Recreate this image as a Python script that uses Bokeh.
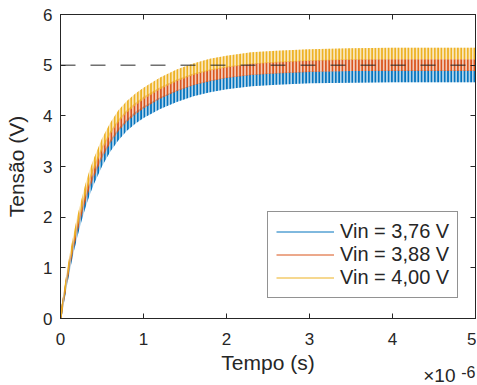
from bokeh.plotting import figure
from bokeh.models import (Range1d, FixedTicker, LinearAxis, CustomJSTickFormatter, Legend,
                          LegendItem, Span, Title, ColumnDataSource)
from bokeh.embed import file_html
from bokeh.resources import INLINE

# time samples (microseconds) and band centre values
T_US = [0, 0.04, 0.08, 0.12, 0.16, 0.2, 0.25, 0.3, 0.35, 0.4, 0.5, 0.6, 0.7, 0.8, 0.9, 1.0,
        1.2, 1.4, 1.6, 1.8, 2.0, 2.3, 2.6, 3.0, 3.5, 4.0, 4.5, 5.0]
V_376 = [0, 0.40, 0.78, 1.12, 1.43, 1.71, 2.02, 2.30, 2.55, 2.76, 3.12, 3.41, 3.64, 3.82, 3.96, 4.07,
         4.25, 4.39, 4.50, 4.58, 4.64, 4.70, 4.73, 4.76, 4.77, 4.78, 4.78, 4.78]
V_388 = [0, 0.42, 0.82, 1.18, 1.50, 1.80, 2.12, 2.42, 2.68, 2.90, 3.28, 3.58, 3.82, 4.00, 4.14, 4.26,
         4.45, 4.60, 4.72, 4.80, 4.86, 4.92, 4.95, 4.98, 5.00, 5.00, 5.00, 5.00]
V_400 = [0, 0.44, 0.86, 1.24, 1.57, 1.89, 2.22, 2.54, 2.81, 3.04, 3.44, 3.75, 4.00, 4.18, 4.32, 4.44,
         4.64, 4.80, 4.92, 5.01, 5.07, 5.14, 5.17, 5.20, 5.22, 5.23, 5.23, 5.23]
RIPPLE = [0.23, 0.23, 0.23]          # peak-to-peak ripple (V)
LABELS = ["Vin = 3,76 V", "Vin = 3,88 V", "Vin = 4,00 V"]
REF_V = 5.0
X_TICKS_US = [0, 1, 2, 3, 4, 5]
Y_TICKS = [0, 1, 2, 3, 4, 5, 6]
X_MULT_BASE = "×10"
X_MULT_EXP = "-6"

COLORS = ["#0072BD", "#D95319", "#EDB120"]
INK = "#262626"
FONT = "Liberation Sans"

t = [v * 1e-6 for v in T_US]

p = figure(width=476, height=384, output_backend="svg", toolbar_location=None,
           x_range=Range1d(0, 5e-6), y_range=Range1d(0, 6),
           min_border_left=60, min_border_right=1, min_border_top=14, min_border_bottom=66)
p.background_fill_color = "white"
p.border_fill_color = "white"
p.outline_line_color = INK
p.outline_line_width = 1
p.xgrid.visible = False
p.ygrid.visible = False

fmt_x = CustomJSTickFormatter(code="return (tick*1e6).toFixed(0);")
blank = CustomJSTickFormatter(code="return '';")

def style(ax):
    ax.axis_line_color = INK
    ax.major_tick_line_color = INK
    ax.major_tick_in = 5
    ax.major_tick_out = 0
    ax.minor_tick_line_color = None
    ax.major_label_text_font = FONT
    ax.major_label_text_font_size = "17px"
    ax.major_label_text_color = INK
    ax.axis_label_text_font = FONT
    ax.axis_label_text_font_size = "21px"
    ax.axis_label_text_font_style = "normal"
    ax.axis_label_text_color = INK

xa = p.xaxis[0]
xa.ticker = FixedTicker(ticks=[v * 1e-6 for v in X_TICKS_US])
xa.formatter = fmt_x
xa.axis_label = "Tempo (s)"
style(xa)
xa.major_label_standoff = 14
xa.axis_label_standoff = 3

ya = p.yaxis[0]
ya.ticker = FixedTicker(ticks=Y_TICKS)
ya.axis_label = "Tensão (V)"
style(ya)
ya.major_label_standoff = 8
ya.axis_label_standoff = 12

for side, ticks in (("right", Y_TICKS), ("above", [v * 1e-6 for v in X_TICKS_US])):
    ax = LinearAxis(ticker=FixedTicker(ticks=ticks), formatter=blank)
    style(ax)
    ax.major_label_standoff = 0
    ax.major_label_text_font_size = "1px"
    p.add_layout(ax, side)

items = []
for vals, rip, col, lab in zip((V_376, V_388, V_400), RIPPLE, COLORS, LABELS):
    src = ColumnDataSource(dict(t=t, v=vals, lo=[v - rip / 2 for v in vals],
                                hi=[v + rip / 2 for v in vals]))
    p.varea(x="t", y1="lo", y2="hi", source=src, fill_color=col, fill_alpha=0.3,
            hatch_pattern="vertical_line", hatch_color=col, hatch_scale=3.3,
            hatch_weight=1.9, hatch_alpha=1.0)
    lr = p.line(x="t", y="v", source=src, line_color=col, line_width=1)
    lr.visible = False
    items.append(LegendItem(label=lab, renderers=[lr]))

p.add_layout(Span(location=REF_V, dimension="width", line_color=INK, line_width=1,
                  line_dash="15 15"))

leg = Legend(items=items, location=(207, 20), border_line_color=INK, border_line_width=1,
             background_fill_color="white", background_fill_alpha=1,
             label_text_font=FONT, label_text_font_size="20px", label_text_color=INK,
             glyph_width=58, glyph_height=21, label_height=21, label_standoff=6,
             padding=8, spacing=0, margin=0)
p.add_layout(leg, "center")

t1 = Title(text=X_MULT_BASE, align="right", vertical_align="top", offset=20, standoff=-24,
           text_font=FONT, text_font_size="19px", text_font_style="normal", text_color=INK)
t2 = Title(text=X_MULT_EXP, align="right", vertical_align="top", offset=0, standoff=-22,
           text_font=FONT, text_font_size="16px", text_font_style="normal", text_color=INK)
p.add_layout(t1, "below")
p.add_layout(t2, "below")

open("out.html", "w").write(file_html(p, INLINE))
